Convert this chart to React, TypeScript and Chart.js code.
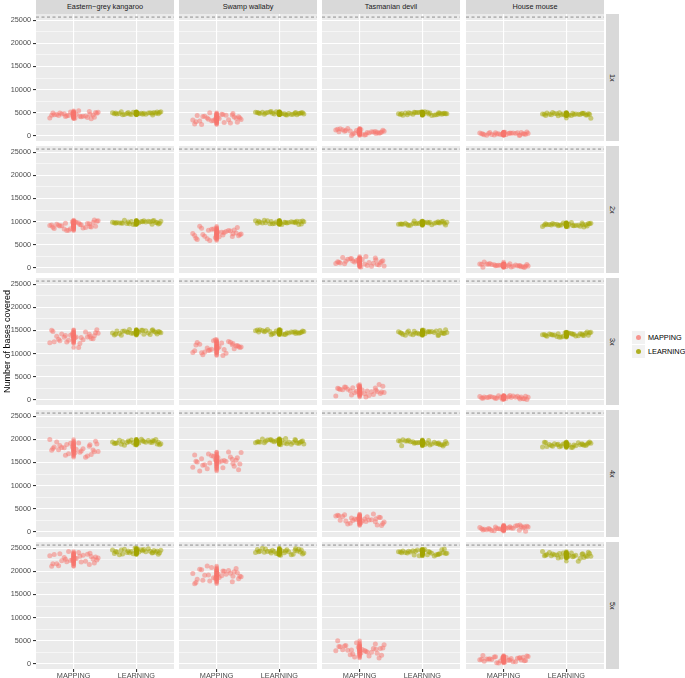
import React, { useEffect, useRef } from 'react';
import { Chart, registerables } from 'chart.js';

Chart.register(...registerables);

// ---------- data ----------
const SPECIES = ['Eastern−grey kangaroo', 'Swamp wallaby', 'Tasmanian devil', 'House mouse'];
const COVERAGE = ['1x', '2x', '3x', '4x', '5x'];
const METHODS = ['MAPPING', 'LEARNING'];
const Y_TICKS = [0, 5000, 10000, 15000, 20000, 25000];
const Y_MINOR = [2500, 7500, 12500, 17500, 22500];
const REFERENCE_LINE = 25700;
const Y_TITLE = 'Number of bases covered';

// horizontal jitter offsets (category units)
const JITTER = [-0.31, 0.12, 0.37, -0.08, 0.25, -0.38, 0.04, 0.19, -0.22, 0.33, -0.15, 0.08, -0.35, 0.28, -0.02,
  0.15, -0.27, 0.39, -0.11, 0.22, -0.19, 0.31, -0.05, 0.10, -0.33, 0.02, 0.26, -0.24, 0.35, -0.13];

const KANGAROO_MAPPING = [
  [4520, 4100, 4870, 4390, 5230, 3850, 4660, 4280, 4940, 4000, 4730, 5380, 4450, 3660, 4820, 4190, 4580, 5060, 4340, 3930, 4690, 4480, 5150, 4230, 4900, 3780, 4620, 4370, 5010, 4150],
  [8960, 9620, 8480, 9320, 10060, 8140, 9500, 9140, 9860, 8720, 9020, 10340, 8360, 9680, 9260, 8840, 9980, 8580, 9420, 10180, 8060, 9560, 9080, 9780, 8460, 9340, 8780, 9920, 8940, 9200],
  [13690, 13090, 14480, 13910, 12580, 13460, 15130, 12890, 14160, 12330, 13600, 14640, 12750, 13860, 13520, 11300, 15050, 13260, 14280, 12970, 13740, 14400, 12480, 13570, 14210, 13180, 13970, 12160, 14790, 13430],
  [18040, 17100, 18820, 17760, 19620, 16560, 18360, 17500, 18980, 16900, 18520, 19960, 17880, 16140, 18700, 17300, 18180, 19240, 17640, 16740, 18420, 17960, 19440, 17400, 18880, 16400, 18260, 17720, 19140, 17220],
  [22360, 23300, 21680, 22870, 23920, 21200, 23130, 22620, 23640, 22020, 22450, 24320, 21510, 23380, 22790, 22190, 23810, 21820, 23010, 24090, 21090, 23210, 22530, 23520, 21650, 22900, 22110, 23720, 22330, 22700],
];
const KANGAROO_LEARNING = [
  [4870, 4740, 5050, 4920, 4620, 4820, 5190, 4690, 4980, 4570, 4850, 5080, 4660, 4910, 4830, 4480, 5170, 4770, 5000, 4710, 4880, 5030, 4600, 4840, 4990, 4760, 4930, 4530, 5120, 4810],
  [9810, 9580, 10010, 9740, 10210, 9440, 9890, 9680, 10050, 9530, 9930, 10290, 9770, 9340, 9980, 9630, 9850, 10110, 9710, 9490, 9910, 9790, 10160, 9650, 10020, 9400, 9870, 9730, 10090, 9610],
  [14470, 14830, 14210, 14670, 15070, 14030, 14760, 14570, 14960, 14340, 14500, 15220, 14150, 14860, 14630, 14400, 15020, 14260, 14720, 15130, 13980, 14800, 14540, 14910, 14200, 14680, 14370, 14990, 14460, 14600],
  [19440, 19190, 19760, 19530, 18980, 19340, 20030, 19110, 19630, 18880, 19400, 19830, 19050, 19510, 19370, 18720, 20000, 19260, 19680, 19140, 19460, 19730, 18940, 19390, 19650, 19230, 19550, 18810, 19890, 19330],
  [24320, 23960, 24610, 24210, 24910, 23760, 24440, 24110, 24670, 23890, 24500, 25040, 24260, 23600, 24560, 24040, 24370, 24770, 24170, 23830, 24460, 24280, 24840, 24080, 24630, 23700, 24400, 24200, 24730, 24010],
];
const WALLABY_MAPPING = [
  [3430, 4170, 2890, 3840, 4670, 2510, 4040, 3630, 4440, 3160, 3500, 4980, 2760, 4240, 3770, 3300, 4580, 3000, 3940, 4810, 2420, 4110, 3570, 4350, 2860, 3860, 3230, 4510, 3400, 3700],
  [7430, 6680, 8060, 7210, 8700, 6250, 7690, 7000, 8180, 6520, 7820, 8970, 7300, 5910, 7960, 6840, 7540, 8390, 7110, 6390, 7740, 7370, 8550, 6920, 8100, 6120, 7610, 7180, 8310, 6780],
  [10940, 11930, 10220, 11480, 12600, 9720, 11750, 11210, 12290, 10580, 11030, 13010, 10040, 12020, 11390, 10760, 12470, 10360, 11620, 12780, 9590, 11840, 11120, 12160, 10180, 11520, 10670, 12380, 10900, 11300],
  [15410, 14640, 16440, 15700, 13980, 15120, 17280, 14380, 16030, 13650, 15300, 16640, 14200, 15630, 15190, 13170, 17170, 14860, 16180, 14490, 15480, 16330, 13850, 15260, 16090, 14750, 15780, 13430, 16840, 15080],
  [19240, 18300, 20020, 18960, 20820, 17760, 19560, 18700, 20180, 18100, 19720, 21160, 19080, 17340, 19900, 18500, 19380, 20440, 18840, 17940, 19620, 19160, 20640, 18600, 20080, 17600, 19460, 18920, 20340, 18420],
];
const WALLABY_LEARNING = [
  [4860, 4670, 5010, 4800, 5170, 4560, 4920, 4750, 5050, 4630, 4950, 5240, 4830, 4480, 4990, 4710, 4890, 5100, 4780, 4600, 4930, 4840, 5140, 4730, 5030, 4530, 4900, 4790, 5080, 4690],
  [9700, 9970, 9510, 9850, 10150, 9380, 9920, 9780, 10060, 9610, 9730, 10260, 9460, 9990, 9820, 9660, 10110, 9550, 9890, 10190, 9340, 9940, 9750, 10030, 9500, 9860, 9630, 10090, 9690, 9800],
  [14680, 14460, 14970, 14760, 14280, 14600, 15210, 14390, 14860, 14190, 14650, 15030, 14340, 14740, 14620, 14050, 15180, 14530, 14900, 14420, 14700, 14940, 14240, 14640, 14870, 14500, 14790, 14120, 15080, 14590],
  [19510, 19190, 19790, 19420, 20070, 19000, 19630, 19330, 19840, 19120, 19680, 20190, 19460, 18850, 19750, 19260, 19560, 19930, 19370, 19060, 19650, 19490, 20000, 19290, 19810, 18940, 19590, 19400, 19900, 19230],
  [24340, 24060, 24720, 24440, 23820, 24240, 25020, 23960, 24560, 23700, 24300, 24790, 23900, 24420, 24260, 23520, 24980, 24140, 24620, 24000, 24360, 24680, 23770, 24280, 24590, 24100, 24480, 23620, 24860, 24220],
];
const DEVIL_MAPPING = [
  [890, 610, 1270, 990, 370, 790, 1570, 510, 1110, 250, 850, 1340, 450, 970, 810, 70, 1530, 690, 1170, 550, 910, 1230, 320, 830, 1140, 650, 1030, 170, 1410, 770],
  [1270, 710, 1740, 1110, 2220, 390, 1470, 950, 1840, 590, 1560, 2430, 1180, 130, 1670, 830, 1360, 1990, 1030, 490, 1500, 1230, 2110, 890, 1780, 290, 1410, 1080, 1930, 780],
  [1930, 1270, 2470, 1730, 3030, 890, 2150, 1550, 2590, 1130, 2260, 3270, 1820, 600, 2390, 1410, 2030, 2770, 1650, 1020, 2190, 1870, 2910, 1480, 2520, 780, 2080, 1700, 2700, 1350],
  [2340, 3060, 1820, 2730, 3540, 1460, 2930, 2540, 3320, 2080, 2410, 3840, 1690, 3120, 2670, 2210, 3450, 1920, 2830, 3670, 1370, 2990, 2470, 3220, 1790, 2760, 2150, 3380, 2310, 2600],
  [3090, 2460, 3940, 3320, 1920, 2860, 4950, 2240, 3590, 1650, 3000, 4100, 2100, 3270, 2910, 1250, 4530, 2640, 3720, 2330, 3140, 3850, 1810, 2960, 3650, 2550, 3400, 1470, 4260, 2820],
];
const DEVIL_LEARNING = [
  [4720, 4950, 4550, 4840, 5100, 4430, 4910, 4780, 5030, 4630, 4740, 5200, 4510, 4970, 4820, 4670, 5070, 4580, 4880, 5140, 4400, 4930, 4760, 5000, 4540, 4850, 4650, 5050, 4710, 4800],
  [9680, 9490, 9920, 9740, 9340, 9610, 10120, 9430, 9820, 9260, 9650, 9970, 9390, 9730, 9620, 9150, 10090, 9550, 9860, 9460, 9690, 9890, 9310, 9640, 9840, 9520, 9760, 9210, 10010, 9600],
  [14510, 14210, 14770, 14420, 15030, 14030, 14620, 14340, 14820, 14140, 14670, 15140, 14460, 13900, 14730, 14270, 14560, 14900, 14380, 14090, 14640, 14490, 14970, 14300, 14790, 13980, 14580, 14410, 14870, 14250],
  [19110, 19500, 18830, 19320, 19750, 18630, 19430, 19220, 19640, 18970, 19150, 19920, 18760, 19530, 19290, 19040, 19710, 18890, 19380, 19820, 18590, 19460, 19180, 19590, 18820, 19330, 19010, 19670, 19100, 19250],
  [23940, 24380, 23620, 24180, 24680, 23400, 24300, 24060, 24540, 23780, 23980, 24860, 23540, 24420, 24140, 23860, 24620, 23680, 24240, 24760, 23340, 24340, 24020, 24480, 23600, 24200, 23820, 24580, 23920, 24100],
];
const MOUSE_MAPPING = [
  [430, 240, 580, 370, 740, 130, 490, 320, 620, 200, 520, 810, 400, 50, 560, 280, 460, 670, 350, 170, 500, 410, 710, 300, 600, 100, 470, 360, 650, 260],
  [400, 670, 210, 550, 850, 80, 620, 480, 760, 310, 430, 1250, 160, 690, 520, 360, 810, 250, 590, 890, 40, 640, 450, 730, 200, 560, 330, 790, 390, 500],
  [520, 370, 730, 580, 230, 460, 910, 310, 650, 160, 500, 770, 280, 570, 480, 60, 880, 410, 680, 330, 540, 710, 200, 490, 660, 390, 600, 120, 820, 460],
  [760, 440, 1040, 670, 1320, 250, 880, 580, 1090, 370, 930, 1440, 710, 100, 1000, 510, 810, 1180, 620, 310, 900, 740, 1250, 540, 1060, 190, 840, 650, 1150, 480],
  [780, 1250, 440, 1040, 1560, 200, 1160, 910, 1420, 610, 820, 1760, 360, 1290, 990, 700, 1500, 510, 1100, 1650, 140, 1210, 870, 1360, 420, 1050, 650, 1460, 760, 950],
];
const MOUSE_LEARNING = [
  [4670, 4530, 4860, 4720, 4410, 4620, 5010, 4480, 4780, 4350, 4650, 4890, 4450, 4710, 4630, 3800, 4990, 4570, 4810, 4500, 4680, 4840, 4390, 4640, 4790, 4550, 4740, 4310, 4930, 4610],
  [9310, 9080, 9510, 9240, 9710, 8940, 9390, 9180, 9550, 9030, 9430, 9790, 9270, 8840, 9480, 9130, 9350, 9610, 9210, 8990, 9410, 9290, 9660, 9150, 9520, 8900, 9370, 9230, 9590, 9110],
  [13980, 14310, 13740, 14160, 14530, 13570, 14250, 14070, 14430, 13860, 14010, 14670, 13680, 14340, 14130, 13920, 14490, 13790, 14210, 14590, 13530, 14280, 14040, 14390, 13730, 14170, 13890, 14460, 13970, 14100],
  [18880, 18660, 19190, 18970, 18460, 18800, 19440, 18580, 19060, 18360, 18850, 19250, 18530, 18950, 18820, 18220, 19400, 18720, 19110, 18610, 18900, 19160, 18420, 18840, 19080, 18690, 18990, 18300, 19310, 18790],
  [23520, 23140, 23830, 23400, 24150, 22920, 23640, 23300, 23890, 23060, 23710, 24280, 23450, 22200, 23780, 23220, 23570, 24000, 23360, 23000, 23670, 23480, 24080, 23260, 23850, 22860, 23600, 23390, 23960, 23190],
];

// species -> [mapping, learning]
const SERIES_BY_SPECIES = [
  [KANGAROO_MAPPING, KANGAROO_LEARNING],
  [WALLABY_MAPPING, WALLABY_LEARNING],
  [DEVIL_MAPPING, DEVIL_LEARNING],
  [MOUSE_MAPPING, MOUSE_LEARNING],
];

// ---------- layout / style ----------
const FONT = '"Liberation Sans", Arial, Helvetica, sans-serif';
const COLORS = ['rgba(248,118,109,0.5)', 'rgba(163,165,0,0.5)'];
const LEGEND_COLORS = ['rgba(248,118,109,0.75)', 'rgba(163,165,0,0.85)'];
const PANEL_LEFT = [36, 179, 322, 466];
const PANEL_TOP = [14, 146, 278, 410, 542];
const PANEL_W = 138;
const PANEL_H = 127;
const Y_AXIS_W = 26;
const X_AXIS_H = 9;
const Y_MIN = -1148;
const Y_MAX = 26365;
const STRIP_BG = '#D9D9D9';
const Y_GRID = [...Y_TICKS, ...Y_MINOR].sort((a, b) => a - b);

const panelBg = {
  id: 'panelBg',
  beforeDraw(chart: any) {
    const { ctx, chartArea: a } = chart;
    ctx.save();
    ctx.fillStyle = '#EBEBEB';
    ctx.fillRect(a.left, a.top, a.right - a.left, a.bottom - a.top);
    ctx.restore();
  },
};

const isMajor = (v: any) => Y_TICKS.includes(Number(v));
const zeroPadding = (s: any) => {
  s.paddingTop = 0;
  s.paddingBottom = 0;
  s.paddingLeft = 0;
  s.paddingRight = 0;
};

export default function App() {
  const refs = useRef<(HTMLCanvasElement | null)[]>([]);

  useEffect(() => {
    const charts: Chart[] = [];
    COVERAGE.forEach((_, r) => {
      SPECIES.forEach((__, c) => {
        const canvas = refs.current[r * 4 + c];
        if (!canvas) return;
        const isLeft = c === 0;
        const isBottom = r === COVERAGE.length - 1;
        const datasets: any[] = [
          {
            data: [{ x: 0.4, y: REFERENCE_LINE }, { x: 2.6, y: REFERENCE_LINE }],
            showLine: true,
            pointRadius: 0,
            borderColor: '#8F8F8F',
            borderWidth: 1,
            borderDash: [3, 2.5],
          },
        ];
        METHODS.forEach((m, mi) => {
          const vals = SERIES_BY_SPECIES[c][mi][r];
          const shift = (r * 4 + c) * 7 + mi * 11;
          datasets.push({
            label: m,
            data: vals.map((y, i) => ({ x: mi + 1 + JITTER[(i + shift) % JITTER.length], y })),
            showLine: false,
            pointRadius: 2.5,
            pointBorderWidth: 0,
            pointBackgroundColor: COLORS[mi],
            backgroundColor: COLORS[mi],
          });
          datasets.push({
            label: m + ' centre',
            data: vals.map((y) => ({ x: mi + 1, y })),
            showLine: false,
            pointRadius: 2.3,
            pointBorderWidth: 0,
            pointBackgroundColor: COLORS[mi],
            backgroundColor: COLORS[mi],
          });
        });

        const chart = new Chart(canvas, {
          type: 'scatter',
          data: { datasets },
          plugins: [panelBg],
          options: {
            responsive: false,
            animation: false,
            devicePixelRatio: 1,
            layout: { padding: 0, autoPadding: false },
            events: [],
            plugins: { legend: { display: false }, tooltip: { enabled: false } },
            scales: {
              x: {
                type: 'linear',
                min: 0.4,
                max: 2.6,
                afterBuildTicks: (s: any) => {
                  s.ticks = METHODS.map((_m, i) => ({ value: i + 1 }));
                },
                afterFit: (s: any) => {
                  s.height = isBottom ? X_AXIS_H : 0;
                  zeroPadding(s);
                },
                border: { display: false },
                grid: {
                  color: '#FFFFFF',
                  lineWidth: 1.1,
                  drawTicks: isBottom,
                  tickLength: 3,
                  tickColor: '#333333',
                },
                ticks: {
                  display: isBottom,
                  autoSkip: false,
                  maxRotation: 0,
                  padding: 0,
                  color: '#4D4D4D',
                  font: { family: FONT, size: 7.3 },
                  callback: (v: any) => METHODS[Math.round(Number(v)) - 1] ?? '',
                },
              },
              y: {
                type: 'linear',
                min: Y_MIN,
                max: Y_MAX,
                afterBuildTicks: (s: any) => {
                  s.ticks = Y_GRID.map((v) => ({ value: v }));
                },
                afterFit: (s: any) => {
                  s.width = isLeft ? Y_AXIS_W : 0;
                  zeroPadding(s);
                },
                border: { display: false },
                grid: {
                  color: '#FFFFFF',
                  lineWidth: (ctx: any) => (ctx.tick && isMajor(ctx.tick.value) ? 1.1 : 0.55),
                  drawTicks: isLeft,
                  tickLength: 3,
                  tickColor: (ctx: any) => (ctx.tick && isMajor(ctx.tick.value) ? '#333333' : 'rgba(0,0,0,0)'),
                },
                ticks: {
                  display: isLeft,
                  autoSkip: false,
                  padding: 2,
                  color: '#4D4D4D',
                  font: { family: FONT, size: 7.3 },
                  callback: (v: any) => (isMajor(v) ? String(v) : ''),
                },
              },
            },
          } as any,
        });
        charts.push(chart);
      });
    });
    return () => charts.forEach((ch) => ch.destroy());
  }, []);

  const canvases: React.ReactNode[] = [];
  COVERAGE.forEach((_, r) => {
    SPECIES.forEach((__, c) => {
      const isLeft = c === 0;
      const isBottom = r === COVERAGE.length - 1;
      const left = PANEL_LEFT[c] - (isLeft ? Y_AXIS_W : 0);
      const top = PANEL_TOP[r];
      const w = PANEL_W + (isLeft ? Y_AXIS_W : 0);
      const h = PANEL_H + (isBottom ? X_AXIS_H : 0);
      const idx = r * 4 + c;
      canvases.push(
        <canvas
          key={idx}
          ref={(el) => {
            refs.current[idx] = el;
          }}
          width={w}
          height={h}
          style={{ position: 'absolute', left, top, width: w, height: h }}
        />
      );
    });
  });

  return (
    <div
      style={{
        position: 'absolute',
        left: 0,
        top: 0,
        width: 685,
        height: 678,
        overflow: 'hidden',
        background: '#FFFFFF',
        fontFamily: FONT,
      }}
    >
      {SPECIES.map((s, c) => (
        <div
          key={s}
          style={{
            position: 'absolute',
            left: PANEL_LEFT[c],
            top: 0,
            width: PANEL_W,
            height: 14,
            background: STRIP_BG,
            color: '#1A1A1A',
            fontSize: 7.3,
            lineHeight: '14px',
            textAlign: 'center',
            whiteSpace: 'nowrap',
          }}
        >
          {s}
        </div>
      ))}
      {COVERAGE.map((cv, r) => (
        <div
          key={cv}
          style={{
            position: 'absolute',
            left: 606,
            top: PANEL_TOP[r],
            width: 13,
            height: PANEL_H,
            background: STRIP_BG,
            color: '#1A1A1A',
            fontSize: 7.3,
            display: 'flex',
            alignItems: 'center',
            justifyContent: 'center',
          }}
        >
          <span style={{ writingMode: 'vertical-rl', whiteSpace: 'nowrap' }}>{cv}</span>
        </div>
      ))}
      {canvases}
      <div
        style={{
          position: 'absolute',
          left: 0,
          top: PANEL_TOP[0],
          width: 14,
          height: PANEL_TOP[4] + PANEL_H - PANEL_TOP[0],
          display: 'flex',
          alignItems: 'center',
          justifyContent: 'center',
        }}
      >
        <span
          style={{
            writingMode: 'vertical-rl',
            transform: 'rotate(180deg)',
            fontSize: 9,
            color: '#000000',
            whiteSpace: 'nowrap',
          }}
        >
          {Y_TITLE}
        </span>
      </div>
      {METHODS.map((m, i) => (
        <div
          key={m}
          style={{
            position: 'absolute',
            left: 632,
            top: 330 + i * 14,
            height: 14,
            display: 'flex',
            alignItems: 'center',
            whiteSpace: 'nowrap',
          }}
        >
          <div
            style={{
              width: 13,
              height: 13,
              background: '#F2F2F2',
              display: 'flex',
              alignItems: 'center',
              justifyContent: 'center',
            }}
          >
            <div style={{ width: 5, height: 5, borderRadius: '50%', background: LEGEND_COLORS[i] }} />
          </div>
          <span style={{ marginLeft: 3, fontSize: 7.3, color: '#000000' }}>{m}</span>
        </div>
      ))}
    </div>
  );
}
